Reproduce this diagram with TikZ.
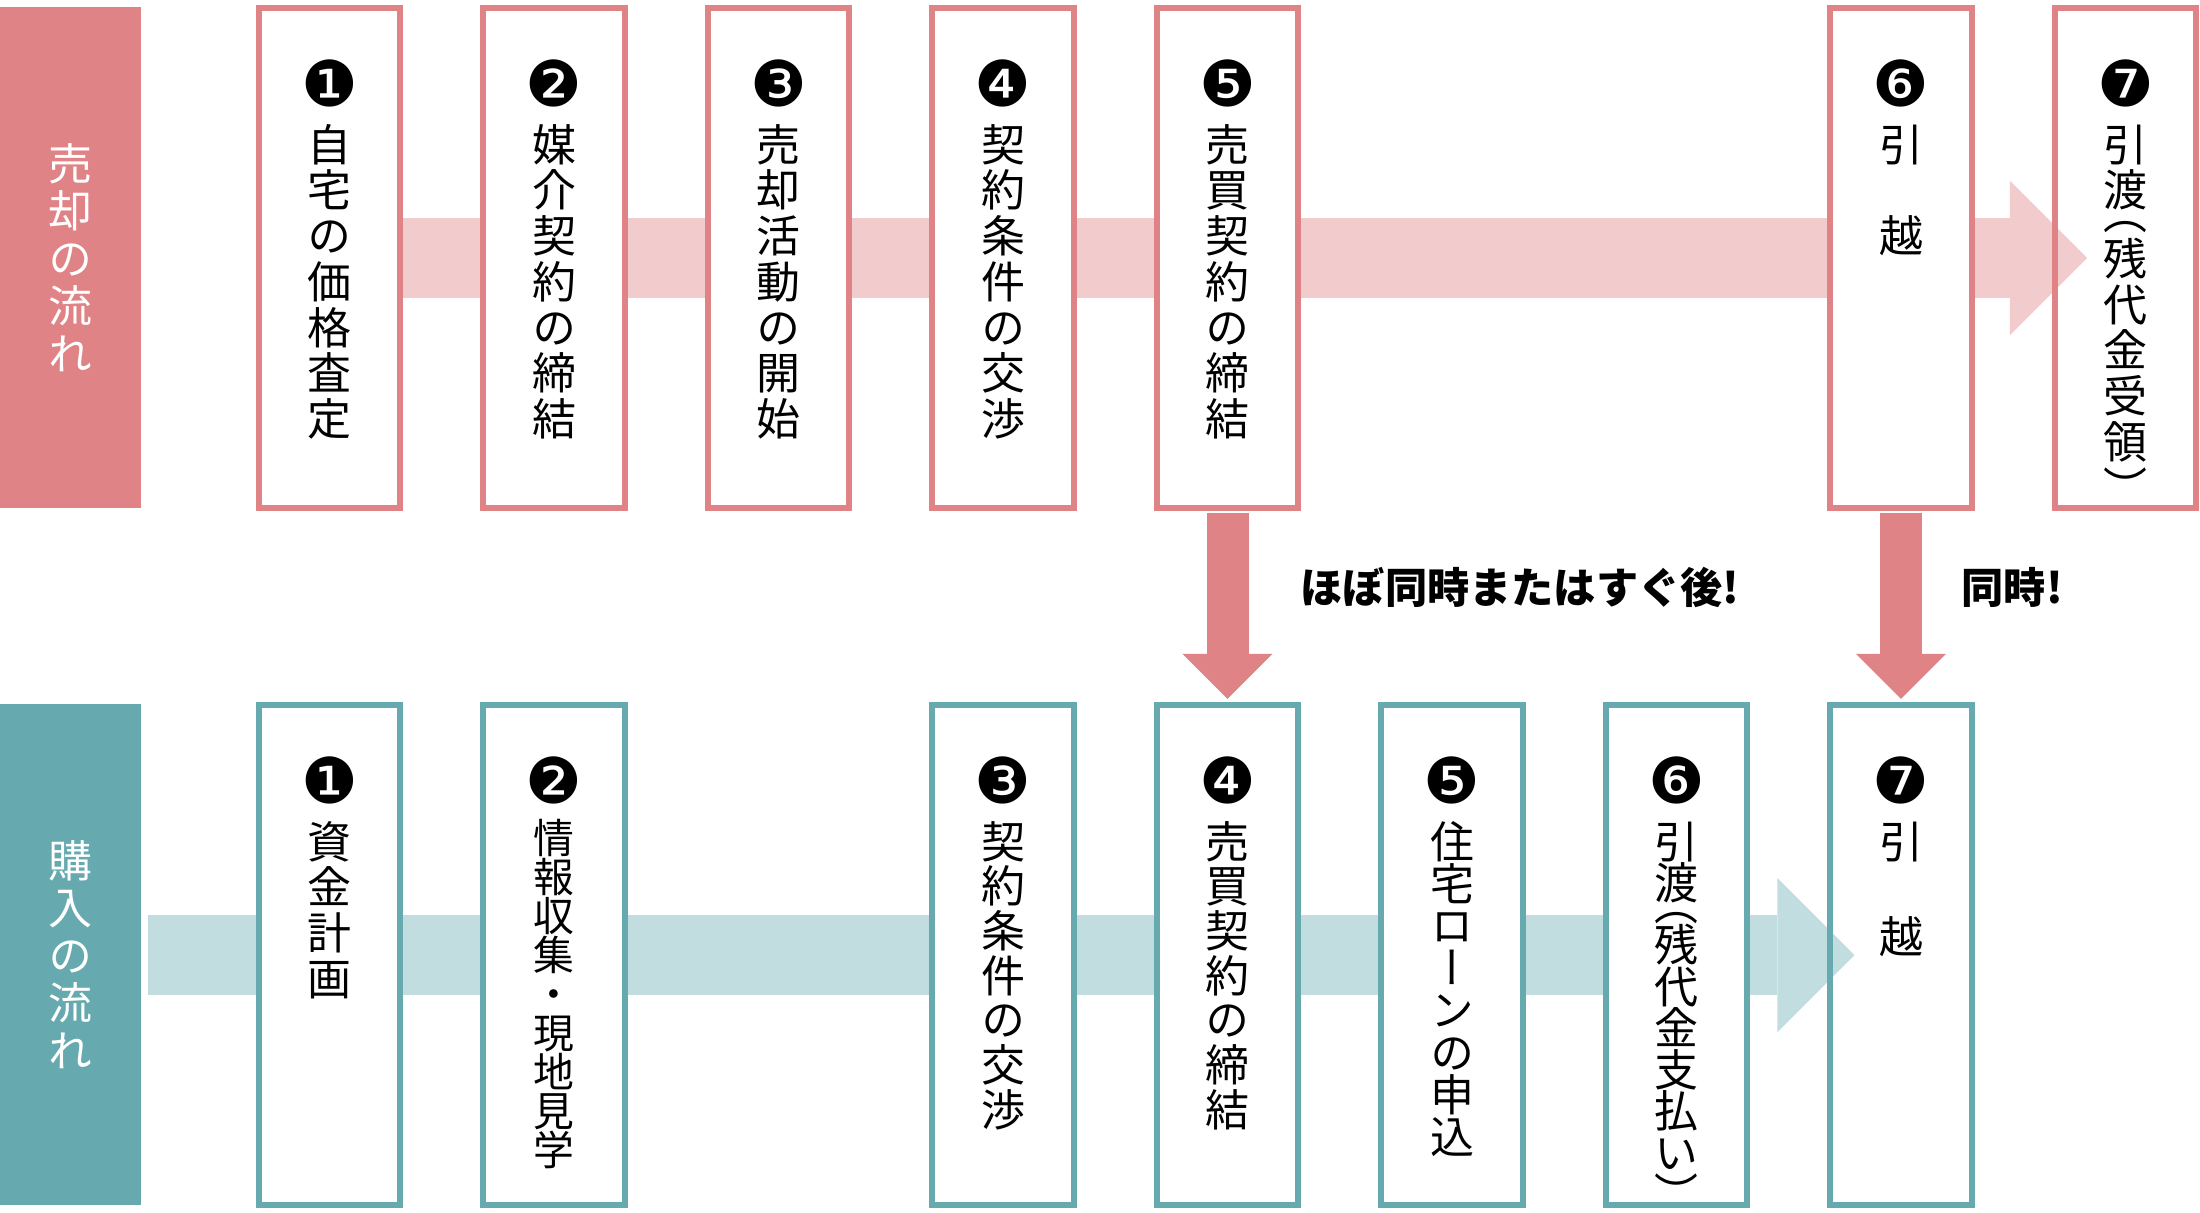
\documentclass[tikz,border=0pt]{standalone}
\usepackage{fontspec}
\usetikzlibrary{arrows.meta,backgrounds}
\newfontfamily\jp{Noto Sans CJK JP}
\newfontfamily\jpv[RawFeature=+vert]{Noto Sans CJK JP}
\newfontfamily\dv{DejaVu Sans}
\newcommand{\nb}[1]{{\dv\fontsize{18pt}{18pt}\selectfont #1}}
\newcommand{\vf}[2]{\jpv\fontsize{#1}{#2}\selectfont\lineskiplimit-20pt\relax}
\definecolor{spink}{RGB}{224,131,135}
\definecolor{lpink}{RGB}{242,203,204}
\definecolor{bteal}{RGB}{102,170,175}
\definecolor{lteal}{RGB}{193,221,224}

\begin{document}
\begin{tikzpicture}[x=0.01cm, y=-0.01cm,
  sbox/.style={rectangle, draw=spink, line width=0.06cm, fill=white, minimum width=1.41cm, minimum height=5cm},
  bbox/.style={sbox, draw=bteal},
  vtxt/.style={anchor=north, inner sep=0, yshift=-0.54cm, align=center, font=\vf{12.5pt}{#1}},
  vtxt/.default=13pt,
  lab/.style={rectangle, inner sep=0, minimum width=1.41cm, minimum height=5.01cm, text=white, align=center, font=\jpv\fontsize{12.5pt}{13.5pt}\selectfont},
  note/.style={anchor=west, inner sep=0, font=\jp\bfseries\fontsize{12pt}{14pt}\selectfont},
  flow/.style={line width=0.8cm, -{Triangle[width=1.54cm, length=0.77cm, line width=0pt]}},
  down/.style={spink, line width=0.42cm, -{Triangle[width=0.9cm, length=0.45cm, line width=0pt]}, shorten <=0.02cm, shorten >=0.03cm}]
\useasboundingbox (0,0) rectangle (2200,1212);

% selling
\node (ls) at (70.5,257.5) [lab, fill=spink] {売\\却\\の\\流\\れ};
\node (s1) at (329.5,258) [sbox] {};
\node (s2) at (554,258) [sbox] {};
\node (s3) at (778.5,258) [sbox] {};
\node (s4) at (1003,258) [sbox] {};
\node (s5) at (1227.5,258) [sbox] {};
\node (s6) at (1901,258) [sbox] {};
\node (s7) at (2125.5,258) [sbox, fill=none] {};
\node (t1) at (s1.north) [vtxt] {\nb{❶}\\[2.6pt]自\\宅\\の\\価\\格\\査\\定};
\node (t2) at (s2.north) [vtxt] {\nb{❷}\\[2.6pt]媒\\介\\契\\約\\の\\締\\結};
\node (t3) at (s3.north) [vtxt] {\nb{❸}\\[2.6pt]売\\却\\活\\動\\の\\開\\始};
\node (t4) at (s4.north) [vtxt] {\nb{❹}\\[2.6pt]契\\約\\条\\件\\の\\交\\渉};
\node (t5) at (s5.north) [vtxt] {\nb{❺}\\[2.6pt]売\\買\\契\\約\\の\\締\\結};
\node (t6) at (s6.north) [vtxt] {\nb{❻}\\[2.6pt]引\\　\\越};
\node (t7) at (s7.north) [vtxt] {\nb{❼}\\[2.6pt]引\\渡\\[-6.5pt]（\\残\\代\\金\\受\\領\\）};

% buying
\node (lb) at (70.5,954.5) [lab, fill=bteal] {購\\入\\の\\流\\れ};
\node (b1) at (329.5,955) [bbox] {};
\node (b2) at (554,955) [bbox] {};
\node (b3) at (1003,955) [bbox] {};
\node (b4) at (1227.5,955) [bbox] {};
\node (b5) at (1452,955) [bbox] {};
\node (b6) at (1676.5,955) [bbox] {};
\node (b7) at (1901,955) [bbox, fill=none] {};
\node (u1) at (b1.north) [vtxt] {\nb{❶}\\[2.6pt]資\\金\\計\\画};
\node (u2) at (b2.north) [vtxt, font=\vf{11.6pt}{11.1pt}] {\nb{❷}\\[3.1pt]情\\報\\収\\集\\・\\現\\地\\見\\学};
\node (u3) at (b3.north) [vtxt=12.7pt] {\nb{❸}\\[2.9pt]契\\約\\条\\件\\の\\交\\渉};
\node (u4) at (b4.north) [vtxt=12.7pt] {\nb{❹}\\[2.9pt]売\\買\\契\\約\\の\\締\\結};
\node (u5) at (b5.north) [vtxt=12pt] {\nb{❺}\\[3.6pt]住\\宅\\ロ\\ー\\ン\\の\\申\\込};
\node (u6) at (b6.north) [vtxt=11.8pt] {\nb{❻}\\[3.8pt]引\\渡\\[-5.9pt]（\\残\\代\\金\\支\\払\\い\\）};
\node (u7) at (b7.north) [vtxt=13.6pt] {\nb{❼}\\[2pt]引\\　\\越};

\coordinate (bs) at (148,955);
\begin{scope}[on background layer]
\draw[flow, lpink, shorten >=-0.35cm] (s1.center) -- (s7.west);
\draw[flow, lteal, shorten >=-0.27cm] (bs) -- (b7.west);
\end{scope}

\draw[down] (s5) -- (b4);
\draw[down] (s6) -- (b7);
\node (n1) at (1300,587) [note] {ほぼ同時またはすぐ後!};
\node (n2) at (1961,587) [note] {同時!};
\end{tikzpicture}
\end{document}
